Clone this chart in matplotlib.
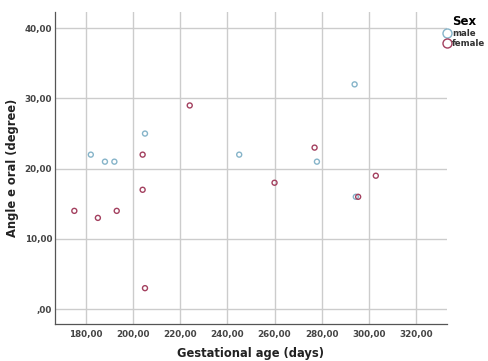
import matplotlib
matplotlib.use("Agg")
import matplotlib.pyplot as plt
from matplotlib.ticker import FuncFormatter
from matplotlib.lines import Line2D


male_age = [182, 188, 192, 205, 245, 278, 294, 294.5]
male_angle = [22, 21, 21, 25, 22, 21, 32, 16]

female_age = [175, 185, 193, 204, 204, 205, 224, 260, 277, 295.5, 303]
female_angle = [14, 13, 14, 22, 17, 3, 29, 18, 23, 16, 19]

x_ticks = [180, 200, 220, 240, 260, 280, 300, 320]
y_ticks = [0, 10, 20, 30, 40]

male_col = "#86b4c9"
female_col = "#a3405f"


def komma(v, pos):
    s = "%.2f" % v
    s = s.replace(".", ",")
    if s.startswith("0,"):
        s = s[1:]
    return s


fig = plt.figure(figsize=(4.89, 3.61), dpi=100)
ax = fig.add_axes([0.1125, 0.1025, 0.8015, 0.8643])

ax.scatter(male_age, male_angle, s=13, facecolors="none", edgecolors=male_col, linewidths=1.0, zorder=3)
ax.scatter(female_age, female_angle, s=13, facecolors="none", edgecolors=female_col, linewidths=1.0, zorder=3)

ax.set_xlim(166.8, 333.2)
ax.set_ylim(-2.1, 42.3)
ax.set_xticks(x_ticks)
ax.set_yticks(y_ticks)
ax.xaxis.set_major_formatter(FuncFormatter(komma))
ax.yaxis.set_major_formatter(FuncFormatter(komma))
ax.grid(True, color="#cccccc", linewidth=1.0)
ax.set_axisbelow(True)

for side in ["top", "right"]:
    ax.spines[side].set_visible(False)
for side in ["left", "bottom"]:
    ax.spines[side].set_color("#555555")
    ax.spines[side].set_linewidth(0.9)

ax.tick_params(length=0, labelsize=6.3, labelcolor="#444444")
ax.tick_params(axis="x", pad=4)
ax.tick_params(axis="y", pad=2)
for lbl in ax.get_xticklabels() + ax.get_yticklabels():
    lbl.set_fontweight("bold")

ax.set_xlabel("Gestational age (days)", fontsize=8.3, fontweight="bold", color="#222222", labelpad=6)
ax.set_ylabel("Angle e oral (degree)", fontsize=8.3, fontweight="bold", color="#222222", labelpad=4)

handles = [
    Line2D([], [], marker="o", linestyle="none", markersize=6.5, markerfacecolor="none",
           markeredgecolor=male_col, markeredgewidth=1.0, label="male"),
    Line2D([], [], marker="o", linestyle="none", markersize=6.5, markerfacecolor="none",
           markeredgecolor=female_col, markeredgewidth=1.0, label="female"),
]
leg = fig.legend(handles=handles, title="Sex", loc="upper left", bbox_to_anchor=(0.905, 0.962),
                 frameon=False, fontsize=6.2, title_fontsize=8.5, handletextpad=0.1,
                 labelspacing=0.15, borderaxespad=0, handlelength=0.9, borderpad=0.1)
leg.get_title().set_fontweight("bold")
for t in leg.get_texts():
    t.set_fontweight("bold")
    t.set_color("#333333")

fig.savefig("out.png", dpi=100)
